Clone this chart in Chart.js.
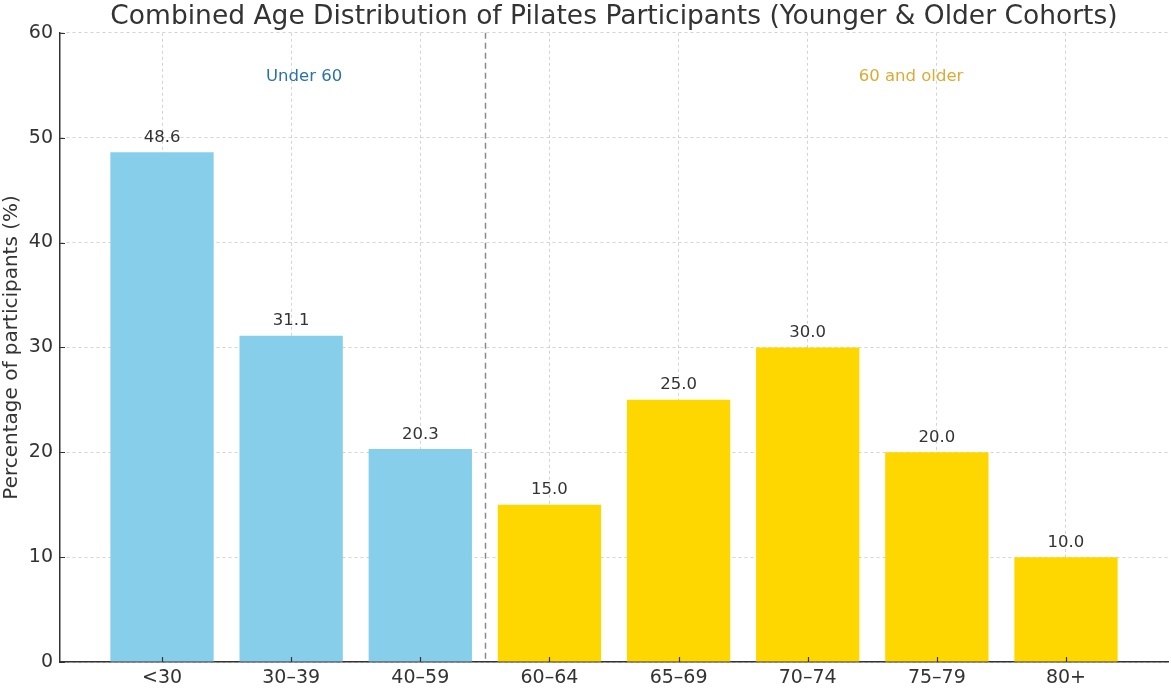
<!DOCTYPE html>
<html>
<head>
<meta charset="utf-8">
<script src="https://cdn.jsdelivr.net/npm/chart.js@4"></script>
<style>
html,body{margin:0;padding:0;background:#fff;}
#wrap{width:1171px;height:688px;}
</style>
</head>
<body>
<div id="wrap"><canvas id="c" width="1171" height="688"></canvas></div>
<script>
const categories = ['<30', '30–39', '40–59', '60–64', '65–69', '70–74', '75–79', '80+'];
const values = [48.6, 31.1, 20.3, 15.0, 25.0, 30.0, 20.0, 10.0];
const groupOf = ['under', 'under', 'under', 'older', 'older', 'older', 'older', 'older'];
const yTicks = [0, 10, 20, 30, 40, 50, 60];
const groupLabels = ['Under 60', '60 and older'];
const titleText = 'Combined Age Distribution of Pilates Participants (Younger & Older Cohorts)';
const yTitle = 'Percentage of participants (%)';

const FONT = "'DejaVu Sans', sans-serif";
const colorFor = { under: '#87CEEB', older: '#FFD700' };

const annotPlugin = {
  id: 'annot',
  afterDatasetsDraw(chart) {
    const ctx = chart.ctx;
    const xs = chart.scales.x, ys = chart.scales.y;
    const area = chart.chartArea;
    ctx.save();
    // divider between the two cohorts
    const dx = Math.round(xs.getPixelForValue(2.5)) + 0.5;
    ctx.strokeStyle = '#8a8a8a';
    ctx.lineWidth = 1.5;
    ctx.setLineDash([6, 4]);
    ctx.beginPath();
    ctx.moveTo(dx, area.top);
    ctx.lineTo(dx, area.bottom);
    ctx.stroke();
    ctx.setLineDash([]);
    // inward tick marks
    ctx.strokeStyle = '#333333';
    ctx.lineWidth = 1.2;
    ctx.beginPath();
    categories.forEach((c, i) => {
      const px = Math.round(xs.getPixelForValue(i)) + 0.5;
      ctx.moveTo(px, area.bottom);
      ctx.lineTo(px, area.bottom - 5);
    });
    yTicks.forEach(v => {
      const py = Math.round(ys.getPixelForValue(v)) + 0.5;
      ctx.moveTo(area.left, py);
      ctx.lineTo(area.left + 5, py);
    });
    ctx.stroke();
    // value labels
    ctx.font = '16.5px ' + FONT;
    ctx.fillStyle = '#333333';
    ctx.textAlign = 'center';
    ctx.textBaseline = 'bottom';
    values.forEach((v, i) => {
      ctx.fillText(v.toFixed(1), xs.getPixelForValue(i), ys.getPixelForValue(v + 1) + 4);
    });
    // group labels
    ctx.textBaseline = 'middle';
    ctx.fillStyle = '#2a72aa';
    ctx.fillText(groupLabels[0], xs.getPixelForValue(1.1), ys.getPixelForValue(55.8));
    ctx.fillStyle = '#dcab36';
    ctx.fillText(groupLabels[1], xs.getPixelForValue(5.8), ys.getPixelForValue(55.8));
    ctx.restore();
  }
};

new Chart(document.getElementById('c'), {
  type: 'bar',
  data: {
    datasets: [{
      data: values.map((v, i) => ({ x: i, y: v })),
      backgroundColor: groupOf.map(g => colorFor[g]),
      borderWidth: 0,
      barPercentage: 0.8,
      categoryPercentage: 1.0
    }]
  },
  options: {
    responsive: false,
    animation: false,
    devicePixelRatio: 1,
    layout: { padding: { left: 0, right: 3, top: 0, bottom: 0 } },
    plugins: {
      legend: { display: false },
      tooltip: { enabled: false },
      title: {
        display: true,
        fullSize: false,
        text: titleText,
        color: '#333333',
        font: { family: FONT, size: 26.5, weight: 'normal', lineHeight: 1.2 },
        padding: { top: 1, bottom: 0 }
      }
    },
    scales: {
      x: {
        type: 'linear',
        offset: false,
        min: -0.79,
        max: 7.79,
        z: 1,
        afterBuildTicks(scale) { scale.ticks = categories.map((c, i) => ({ value: i })); },
        afterFit(scale) { scale.height = 26; },
        ticks: {
          callback: (v) => categories[v] ?? '',
          color: '#333333',
          font: { family: FONT, size: 19 },
          padding: 5,
          maxRotation: 0,
          autoSkip: false
        },
        grid: {
          offset: false,
          color: 'rgba(170,170,170,0.5)',
          lineWidth: 1,
          drawTicks: false
        },
        border: { display: true, color: '#333333', width: 1.5, dash: [3, 3] }
      },
      y: {
        min: 0,
        max: 60,
        z: 1,
        afterBuildTicks(scale) { scale.ticks = yTicks.map(v => ({ value: v })); },
        afterFit(scale) { scale.width = 60; },
        ticks: {
          color: '#333333',
          font: { family: FONT, size: 19 },
          padding: 7
        },
        grid: {
          color: 'rgba(170,170,170,0.5)',
          lineWidth: 1,
          drawTicks: false
        },
        border: { display: true, color: '#333333', width: 1.5, dash: [3, 3] },
        title: {
          display: true,
          text: yTitle,
          color: '#333333',
          font: { family: FONT, size: 20 },
          padding: { top: 0, bottom: 2 }
        }
      }
    }
  },
  plugins: [annotPlugin]
});
</script>
</body>
</html>
